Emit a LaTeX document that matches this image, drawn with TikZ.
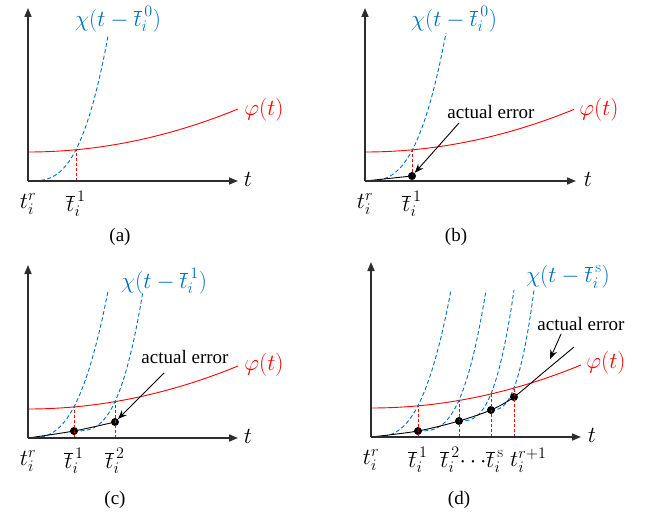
\RequirePackage{fix-cm}
\documentclass[tikz,border=0pt]{standalone}
\usepackage{fontspec}
\newfontfamily\tnr{Liberation Serif}
\usetikzlibrary{arrows.meta}
\definecolor{cblue}{RGB}{0,112,192}
\definecolor{cred}{RGB}{255,0,0}
\definecolor{caxis}{RGB}{45,45,45}
\tikzset{
  axline/.style={draw=caxis, line width=1.6pt, -{Triangle[length=9pt,width=7pt]}},
  redc/.style={cred, line width=0.9pt},
  bluec/.style={cblue, line width=0.9pt, dash pattern=on 4pt off 2.5pt},
  reddash/.style={cred, line width=0.9pt, dash pattern=on 3pt off 2pt},
  errc/.style={black, line width=0.9pt},
  edot/.style={circle, fill=black, inner sep=0pt, minimum size=8pt},
  ptr/.style={black, line width=0.9pt, -{Stealth[length=9pt,width=7pt]}},
  mlab/.style={font=\fontsize{23}{27}\selectfont, inner sep=0pt},
  bluelab/.style={mlab, text=cblue},
  redlab/.style={mlab, text=cred},
  txt/.style={font=\tnr\fontsize{19}{22}\selectfont, inner sep=0pt},
  declare function={fr(\x)=29+43*(\x/210)^2;}
}
\begin{document}
\begin{tikzpicture}[x=1pt,y=1pt]
\useasboundingbox (0,0) rectangle (648,515);
%%%%%%%%%%%%%%%% (a)
\begin{scope}[shift={(28,334)}]
  \coordinate (ao) at (0,0);
  \coordinate (ay) at (0,173);
  \coordinate (ax) at (210,0);
  \draw[redc] plot[domain=0:210,samples=50] (\x,{fr(\x)});
  \draw[bluec] plot[domain=0:80,samples=50] (\x,{145*(\x/80)^3});
  \coordinate (a1b) at (48,0);
  \coordinate (a1t) at (48,{fr(48)});
  \draw[reddash] (a1b) -- (a1t);
  \draw[axline] (ao) -- (ay);
  \draw[axline] (ao) -- (ax);
  \node[bluelab] (achi) at (90,162) {$\chi(t-\overline{t}_i^{\,0})$};
  \node[redlab] (aphi) at (236,71) {$\varphi(t)$};
  \node[mlab] (at) at (220,2) {$t$};
  \node[mlab] (atr) at (0,-23) {$t_i^r$};
  \node[mlab] (at1) at (48,-23) {$\overline{t}_i^{\,1}$};
\end{scope}
\node[txt] (capa) at (120,278) {(a)};
%%%%%%%%%%%%%%%% (b)
\begin{scope}[shift={(365,334)}]
  \coordinate (bo) at (0,0);
  \coordinate (by) at (0,173);
  \coordinate (bx) at (211,0);
  \draw[redc] plot[domain=0:209,samples=50] (\x,{fr(\x)});
  \draw[bluec] plot[domain=0:81,samples=50] (\x,{148*(\x/81)^2.9});
  \node[edot] (bd1) at (47,5) {};
  \coordinate (b1t) at (47,{fr(47)});
  \draw[reddash] (bd1) -- (b1t);
  \draw[errc] (bo) -- (bd1);
  \draw[axline] (bo) -- (by);
  \draw[axline] (bo) -- (bx);
  \node[bluelab] (bchi) at (89,162) {$\chi(t-\overline{t}_i^{\,0})$};
  \node[redlab] (bphi) at (234,71) {$\varphi(t)$};
  \node[mlab] (bt) at (223,2) {$t$};
  \node[mlab] (btr) at (0,-23) {$t_i^r$};
  \node[mlab] (bt1) at (47,-23) {$\overline{t}_i^{\,1}$};
  \node[txt] (berr) at (126,69) {actual error};
  \coordinate (btail) at (94,58);
  \draw[ptr] (btail) -- (bd1);
\end{scope}
\node[txt] (capb) at (456,278) {(b)};
%%%%%%%%%%%%%%%% (c)
\begin{scope}[shift={(28,77)}]
  \coordinate (co) at (0,0);
  \coordinate (cy) at (0,173);
  \coordinate (cx) at (210,0);
  \draw[redc] plot[domain=0:210,samples=50] (\x,{fr(\x)});
  \draw[bluec] plot[domain=0:80,samples=50] (\x,{147*(\x/80)^2.8});
  \draw[bluec] plot[domain=46:115,samples=50] (\x,{7+140*((\x-46)/69)^3});
  \node[edot] (cd1) at (46,7) {};
  \node[edot] (cd2) at (87,16) {};
  \coordinate (c1b) at (46,0);
  \coordinate (c1t) at (46,{fr(46)});
  \coordinate (c2b) at (87,0);
  \coordinate (c2t) at (87,{fr(87)});
  \draw[reddash] (c1b) -- (c1t);
  \draw[reddash] (c2b) -- (c2t);
  \draw[errc] plot[smooth] coordinates {(0,0) (46,7) (87,16)};
  \draw[axline] (co) -- (cy);
  \draw[axline] (co) -- (cx);
  \node[bluelab] (cchi) at (136,157) {$\chi(t-\overline{t}_i^{\,1})$};
  \node[redlab] (cphi) at (236,73) {$\varphi(t)$};
  \node[mlab] (ct) at (220,2) {$t$};
  \node[mlab] (ctr) at (0,-23) {$t_i^r$};
  \node[mlab] (ct1) at (46,-23) {$\overline{t}_i^{\,1}$};
  \node[mlab] (ct2) at (87,-23) {$\overline{t}_i^{\,2}$};
  \node[txt] (cerr) at (157,81) {actual error};
  \coordinate (ctail) at (136,65);
  \draw[ptr] (ctail) -- (cd2);
\end{scope}
\node[txt] (capc) at (115,15) {(c)};
%%%%%%%%%%%%%%%% (d)
\begin{scope}[shift={(371,78)}]
  \coordinate (do) at (0,0);
  \coordinate (dy) at (0,175);
  \coordinate (dx) at (210,0);
  \draw[redc] plot[domain=0:210,samples=50] (\x,{fr(\x)});
  \draw[bluec] plot[domain=0:80,samples=50] (\x,{147*(\x/80)^2.9});
  \draw[bluec] plot[domain=47:115,samples=50] (\x,{6+141*((\x-47)/68)^3});
  \draw[bluec] plot[domain=88:143,samples=50] (\x,{16+131*((\x-88)/55)^2.9});
  \draw[bluec] plot[domain=120:163,samples=50] (\x,{27+120*((\x-120)/43)^2.7});
  \node[edot] (dd1) at (47,6) {};
  \node[edot] (dd2) at (88,16) {};
  \node[edot] (dd3) at (120,27) {};
  \node[edot] (dd4) at (143,40) {};
  \foreach \k/\xx in {1/47,2/88,3/120,4/143}{
    \coordinate (d\k b) at (\xx,0);
    \coordinate (d\k t) at (\xx,{fr(\xx)});
    \draw[reddash] (d\k b) -- (d\k t);
  }
  \draw[errc] plot[smooth] coordinates {(0,0) (47,6) (88,16) (120,27) (143,40) (173,65) (203,90)};
  \draw[axline] (do) -- (dy);
  \draw[axline] (do) -- (dx);
  \node[bluelab] (dchi) at (197,160) {$\chi(t-\overline{t}_i^{\,\mathrm{s}})$};
  \node[redlab] (dphi) at (235,74) {$\varphi(t)$};
  \node[mlab] (dt) at (221,2) {$t$};
  \node[mlab] (dtr) at (0,-23) {$t_i^r$};
  \node[mlab] (dt1) at (47,-23) {$\overline{t}_i^{\,1}$};
  \node[mlab] (dt2s) at (101,-23) {$\overline{t}_i^{\,2}{\cdots}\overline{t}_i^{\,\mathrm{s}}$};
  \node[mlab, anchor=west] (dtr1) at (139,-23) {$t_i^{r+1}$};
  \node[txt] (derr) at (210,113) {actual error};
  \coordinate (dtail) at (190,103);
  \coordinate (dtip) at (179,78);
  \draw[ptr] (dtail) -- (dtip);
\end{scope}
\node[txt] (capd) at (459,15) {(d)};
\end{tikzpicture}
\end{document}
